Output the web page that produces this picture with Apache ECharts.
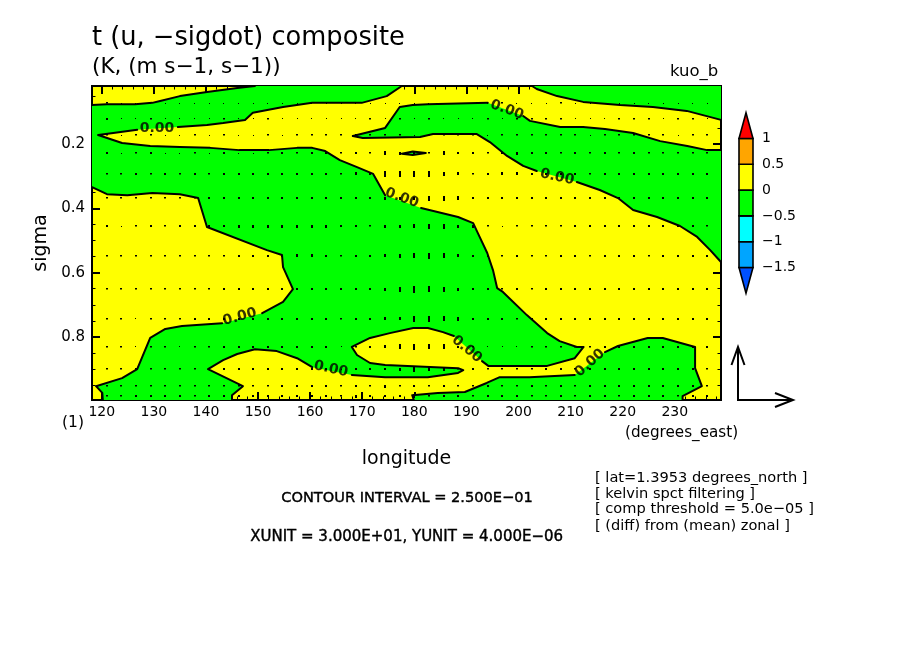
<!DOCTYPE html>
<html><head><meta charset="utf-8">
<style>html,body{margin:0;padding:0;background:#fff}#c{width:904px;height:654px}</style>
<script src="https://cdn.jsdelivr.net/npm/echarts@6/dist/echarts.min.js"></script>
</head><body><div id="c"></div>
<script>
const LON_MIN = 118.125, LON_MAX = 238.875, SIG_MIN = 0.0196, SIG_MAX = 0.996;
const lonTicks = [120,130,140,150,160,170,180,190,200,210,220,230];
const lonMinor = [120,122,124,126,128,130,132,134,136,138,140,142,144,146,148,150,152,154,156,158,160,162,164,166,168,170,172,174,176,178,180,182,184,186,188,190,192,194,196,198,200,202,204,206,208,210,212,214,216,218,220,222,224,226,228,230,232,234,236,238];
const sigTicks = [0.2,0.4,0.6,0.8];
const sigMinor = [0.05,0.1,0.15,0.2,0.25,0.3,0.35,0.4,0.45,0.5,0.55,0.6,0.65,0.7,0.75,0.8,0.85,0.9,0.95];

// negative (green) region bounded by the 0 contour; each piece is an unbroken stretch of line
const bigGreenPieces = [
 [[118.125,.079],[121,.076],[126.4,.076],[129.7,.072],[131.2,.066],[135,.051],[140.2,.038],[146,.026],[149.4,.0196]],
 [[177.6,.0196],[174.7,.051],[169.9,.072],[165.7,.072],[160.4,.072],[154.8,.085],[149,.103],[147.5,.125],[143.3,.135],[140.2,.141],[134.6,.147]],
 [[126.8,.156],[122.2,.166],[119.3,.172],[123.9,.197],[129.3,.206],[135,.209],[140.8,.212],[146.4,.219],[152.1,.219],[157.5,.212],[160.4,.212],[162.9,.222],[165.7,.25],[169,.272],[172.1,.293],[174.4,.359]],
 [[181.3,.399],[188.4,.427],[191.3,.446],[192.2,.477],[194,.539],[195.1,.592],[195.9,.648],[197,.66],[201.6,.732],[205.5,.788],[207.9,.813],[211.2,.831],[212.5,.831],[210.8,.866],[205.5,.89],[194.2,.89],[193,.875]],
 [[187.6,.797],[185.5,.785],[182.6,.772],[179.8,.772],[175.3,.788],[171.5,.803],[168,.831],[169,.856],[171.5,.881],[174.4,.887],[188.4,.897],[189.4,.903],[188.4,.912],[182.6,.925],[174.4,.925],[168,.918]],
 [[160.4,.894],[157.5,.866],[153.6,.844],[149.4,.838],[146,.853],[143.3,.872],[140.4,.9],[147.1,.953],[145,.981],[145,.996]],
 [[120.2,.996],[120.1,.974],[118.9,.953],[123.9,.928],[126.8,.9],[129.3,.803],[132.2,.775],[135.4,.766],[143.1,.757]],
 [[150.8,.726],[154.8,.691],[156.7,.651],[154.8,.583],[154.6,.545],[151.7,.53],[140.2,.458],[138.5,.368],[135,.356],[129.7,.352],[124.9,.359],[121,.356],[118.125,.334]]
];
const midGreenPieces = [
 [[168.2,.175],[174.4,.15],[177.2,.085],[179.7,.079],[182.6,.076],[194.1,.072]],
 [[200.9,.113],[202.2,.128],[208,.147],[212.4,.147],[216.6,.153],[222,.166],[227.2,.191],[232.4,.206],[236.2,.219],[238.875,.219]],
 [[238.875,.567],[236.8,.53],[234.3,.489],[231,.455],[226.6,.427],[222,.405],[219.1,.368],[215.6,.343],[211.2,.318]],
 [[203.5,.284],[200.9,.268],[197.8,.237],[194.5,.194],[192,.169],[183.6,.169],[181.1,.178],[170.1,.181],[168.2,.175]]
];
const topRightPieces = [
 [[202.6,.0196],[203.5,.029],[207.4,.051],[212.4,.069],[219.5,.079],[225.8,.085],[232.3,.097],[238.875,.125]]
];
const topRightCorner = [[238.875,.0196]];
const lowRightPieces = [
 [[179.9,.996],[179.6,.981],[184.5,.974],[189.7,.971],[193.9,.943],[196.4,.925],[202.1,.925],[210.8,.918]],
 [[216.6,.847],[219.1,.828],[224.8,.803],[227.7,.803],[233.9,.831],[233.9,.897],[235.2,.953],[231.5,.984],[231.5,.996]]
];
const lensPieces = [[[177.6,.23],[179.7,.223],[182.2,.228],[179.7,.234],[177.6,.23]]];

const contourLabels = [
 [130.6,.150,0],[197.8,.094,-20],[177.6,.368,-20],[207.4,.303,-12],
 [146.5,.738,15],[164.0,.900,-12],[190.1,.838,-40],[213.7,.881,42]
];

const vecLons = [120.94,123.75,126.56,129.38,132.19,135,137.81,140.63,143.44,146.25,149.06,151.88,154.69,157.5,160.31,163.13,165.94,168.75,171.56,174.38,177.19,180,182.81,185.63,188.44,191.25,194.06,196.88,199.69,202.5,205.31,208.13,210.94,213.75,216.56,219.38,222.19,225,227.81,230.63,233.44,236.25];
const vecSigmas = [.0725,.122,.172,.228,.293,.368,.455,.548,.651,.744,.831,.9,.953,.984];
// vertical component, in pixels-equivalent of the arrow key (YUNIT 4e-6 = 53)
const wRows = [
 [1,.5,.5,.5,.5,.5,.5,.5,.5,.5,.5,.5,.5,.5,.5,.5, .5,.5,.5,.5,.5,.5,.5,.5,.5,.5,.5,1,.5, .5,.5,1,.5,.5,.5,.5,.5,.5,.5,.5,.5,.5],
 [2,.5,.5,1,.5,.5,.5,.5,1,.5,.5,1,.5,.5,.5,.5, .5,.5,1,.5,1,.5,1,.5,.5,.5,1,.5,1, 1,1,1,.5,.5,.5,1,1,1,.5,1,1,.5],
 [1.5,.5,1,1.5,.5,.5,1,.5,1.5,.5,.5,1,.5,1,1.5,1.5, 1,1,1.5,1,1.5,.5,1,1,1,1,.5,1,1, 1,1.5,1,1,.5,1,1.5,1,1.5,1,.5,1,1],
 [2,.5,1,2,.5,.5,1,.5,2,.5,.5,1,2,1,2,2, 1,2,1,4,3,3,1,4,2,2,1,2,3, 2,2,1,2,1,2,1,2,1,1,1,1,1],
 [1,1,2,1,2,1,2,1,2,2,2,2,2,2,2,2, 1,3,2,6,6,6,6,4,3,1,2,3,3, 2,2,2,2,1.5,2,2,2,2,2,2,2,2],
 [1,1,1,1,1,1,1,2,2,2,2,2,2,2,2,2, 2,2,2,3,3,3,5,5,4,2,2,2,2, 2,2,2,2,2,2,2,2,2,2,2,2,2],
 [2,.5,1,2,1,2,2,2,2,3,3,3,3,3,3,3, 2,2,1,3,3,4,5,5,3,3,1,.5,1, 1,1,1,2,2,2,2,2,2,2,2,2,1],
 [1,1,1,1,1,1,1,1,1,2,2,2,2,3,3,2, 1,2,2,3,4,5,6,5,3,2,2,1,2, 1,1,2,2,1,2,2,2,1,2,2,2,2],
 [1,1,1,1,1,1,1,1,2,2,2,2,2,2,2,2, 2,2,2,3,5,7,6,5,3,2,2,1,2, 1,2,2,2,2,2,2,2,2,2,2,2,2],
 [1,1,.5,1,1,1,2,2,2,2,2,2,2,2,2,2, 1,2,2,3,3,6,6,5,4,2,2,2,1, 2,2,2,2,2,2,2,2,2,2,2,2,2],
 [1,1,.5,1,1,.5,1,1,2,2,2,2,2,2,2,2, .5,1,2,3,5,6,5,5,2,1,.5,.5,.5, 1,1,1,1,1,2,2,2,2,2,2,2,2],
 [1,1,1,1,1,1,1,1,2,2,2,2,2,2,2,2, .5,2,2,2,3,5,4,3,1,2,1,1,1, 1,2,2,1,2,2,2,2,2,2,2,2,1],
 [1,1,1,1,1,1,1,1,1,1,1,1,2,2,2,2, 1,2,1,3,1,2,1,2,1,1,2,1,1, 2,1,2,1,2,2,2,2,2,2,2,2,1],
 [1,1,2,2,2,2,1,2,2,2,2,2,2,2,2,2, 1,3,2,2,2,4,1,2,2,1,2,2,2, 1,1,2,1,2,2,1,2,2,2,1,2,2]
];

const barLevels = [-2,-1.5,-1,-0.5,0,0.5,1,1.5];
const barColors = ['#0050ff','#00a5ff','#00ffff','#00ff00','#ffff00','#ffa500','#ff0000'];
const barLabels = [-1.5,-1,-0.5,0,0.5,1];
const xUnit = 30, yUnit = 4;

const GREEN = '#00ff00', YELLOW = '#ffff00', FONT = '"DejaVu Sans"';
const polygons = [
  bigGreenPieces.flat(), midGreenPieces.flat(),
  topRightPieces.flat().concat(topRightCorner), lowRightPieces.flat(), lensPieces.flat()
];
const allPieces = [...bigGreenPieces,...midGreenPieces,...topRightPieces,...lowRightPieces,...lensPieces];
const vecData = [];
wRows.forEach((row,r)=>row.forEach((w,i)=>vecData.push([vecLons[i],vecSigmas[r],w])));

function axisX(pos,vals,len,labels){return {type:'value',gridIndex:0,position:pos,min:LON_MIN,max:LON_MAX,
  axisLine:{show:true,onZero:false,lineStyle:{color:'#000',width:2}},splitLine:{show:false},
  axisTick:{show:true,inside:true,length:len,customValues:vals,lineStyle:{color:'#000',width:len>4?2:1}},
  axisLabel:labels?{show:true,customValues:lonTicks,color:'#000',fontFamily:FONT,fontSize:14,margin:5}:{show:false}};}
function axisY(pos,vals,len,labels){return {type:'value',gridIndex:0,position:pos,inverse:true,min:SIG_MIN,max:SIG_MAX,
  axisLine:{show:true,onZero:false,lineStyle:{color:'#000',width:2}},splitLine:{show:false},
  axisTick:{show:true,inside:true,length:len,customValues:vals,lineStyle:{color:'#000',width:len>4?2:1}},
  axisLabel:labels?{show:true,customValues:sigTicks,formatter:v=>v.toFixed(1),color:'#000',fontFamily:FONT,fontSize:15,margin:7}:{show:false}};}

const xB = axisX('bottom',lonTicks,8,true);
xB.name='longitude'; xB.nameLocation='middle'; xB.nameGap=50; xB.nameTextStyle={color:'#000',fontFamily:FONT,fontSize:19};
const yL = axisY('left',sigTicks,8,true);
yL.name='sigma'; yL.nameLocation='middle'; yL.nameGap=37; yL.nameTextStyle={color:'#000',fontFamily:FONT,fontSize:19};

const hidden = (g,min,max)=>({type:'value',gridIndex:g,min,max,show:false});

function txt(text,x,y,size,heavy){return {type:'text',left:x,top:y,silent:true,z:50,
  style:Object.assign({text,fill:'#000',font:size+'px '+FONT},heavy?{stroke:'#000',lineWidth:.4}:{})};}

const series = [
 {type:'custom',xAxisIndex:0,yAxisIndex:0,z:2,clip:true,silent:true,data:polygons.map((p,i)=>[i]),
  encode:{x:[],y:[]},
  renderItem:(params,api)=>({type:'polygon',shape:{points:polygons[api.value(0)].map(p=>api.coord(p))},
    style:{fill:GREEN,stroke:null}})},
 ...allPieces.map(piece=>({type:'line',xAxisIndex:0,yAxisIndex:0,z:3,silent:true,showSymbol:false,symbol:'none',
   animation:false,lineStyle:{color:'#000',width:2,cap:'round',join:'round'},data:piece})),
 {type:'custom',xAxisIndex:0,yAxisIndex:0,z:4,silent:true,data:vecData,encode:{x:0,y:1},
  renderItem:(params,api)=>{const c=api.coord([api.value(0),api.value(1)]);const w=api.value(2);
    const wid=w<1?1:2,h=Math.max(w,w<1?1:1.5);
    return {type:'rect',shape:{x:Math.round(c[0]-wid/2),y:Math.round(c[1]-h/2),width:wid,height:h},style:{fill:'#000'}};}},
 {type:'scatter',xAxisIndex:0,yAxisIndex:0,z:5,symbolSize:0,silent:true,
  data:contourLabels.map(l=>({value:[l[0],l[1]],label:{rotate:l[2]}})),
  label:{show:true,position:'inside',formatter:'0.00',color:'#000',fontFamily:FONT,fontSize:14,fontWeight:'bold',align:'center',verticalAlign:'middle'}},
 {type:'custom',xAxisIndex:4,yAxisIndex:4,z:2,silent:true,data:barColors.map((c,i)=>[i]),encode:{x:[],y:[]},
  renderItem:(params,api)=>{const i=api.value(0);const lo=barLevels[i],hi=barLevels[i+1];
    let pts;
    if(i===0) pts=[api.coord([0,hi]),api.coord([1,hi]),api.coord([.5,lo])];
    else if(i===barColors.length-1) pts=[api.coord([0,lo]),api.coord([1,lo]),api.coord([.5,hi])];
    else pts=[api.coord([0,lo]),api.coord([1,lo]),api.coord([1,hi]),api.coord([0,hi])];
    return {type:'polygon',shape:{points:pts},style:{fill:barColors[i],stroke:'#000',lineWidth:1.6}};}},
 {type:'custom',xAxisIndex:5,yAxisIndex:5,z:2,silent:true,clip:false,data:[[xUnit,yUnit]],encode:{x:0,y:1},
  renderItem:(params,api)=>{const o=api.coord([0,0]),tx=api.coord([api.value(0),0]),ty=api.coord([0,api.value(1)]);
    const st={stroke:'#000',lineWidth:2,fill:null};
    return {type:'group',children:[
      {type:'polyline',shape:{points:[ty,o,tx]},style:st},
      {type:'polyline',shape:{points:[[ty[0]-6.5,ty[1]+18],ty,[ty[0]+6.5,ty[1]+18]]},style:st},
      {type:'polyline',shape:{points:[[tx[0]-18,tx[1]-7],tx,[tx[0]-18,tx[1]+7]]},style:st}
    ]};}}
];

const chart = echarts.init(document.getElementById('c'),null,{renderer:'canvas'});
chart.setOption({
 animation:false,backgroundColor:'#fff',
 title:[
  {text:'t (u, \u2212sigdot) composite',left:92,top:25,padding:0,textStyle:{color:'#000',fontFamily:FONT,fontWeight:'normal',fontSize:25.7}},
  {text:'(K, (m s\u22121, s\u22121))',left:92,top:56,padding:0,textStyle:{color:'#000',fontFamily:FONT,fontWeight:'normal',fontSize:21.5}}
 ],
 grid:[
  {left:92,top:86,width:629,height:314,show:true,backgroundColor:YELLOW,borderWidth:0},
  {left:739,top:112.7,width:14,height:180.6,show:false},
  {left:738,top:347,width:55,height:53,show:false}
 ],
 xAxis:[xB,axisX('bottom',lonMinor,3.5,false),axisX('top',lonTicks,8,false),axisX('top',lonMinor,3.5,false),
  hidden(1,0,1),hidden(2,0,xUnit)],
 yAxis:[yL,axisY('left',sigMinor,3.5,false),axisY('right',sigTicks,8,false),axisY('right',sigMinor,3.5,false),
  {type:'value',gridIndex:1,min:-2,max:1.5,position:'right',axisLine:{show:false},axisTick:{show:false},splitLine:{show:false},
   axisLabel:{show:true,customValues:barLabels,margin:9,color:'#000',fontFamily:FONT,fontSize:14,
     formatter:v=>String(v).replace('-','\u2212')}},
  hidden(2,0,yUnit)],
 series,
 graphic:[
  txt('kuo_b',670,63,16.5),
  txt('(1)',62,415,15.5),
  txt('(degrees_east)',625,426,15.2),
  txt('CONTOUR INTERVAL = 2.500E\u221201',281,491,14.6,true),
  txt('XUNIT = 3.000E+01, YUNIT = 4.000E\u221206',250,529,15,true),
  txt('[ lat=1.3953 degrees_north ]',595,471,14.6),
  txt('[ kelvin spct filtering ]',595,487,14.6),
  txt('[ comp threshold = 5.0e\u221205 ]',595,502,14.6),
  txt('[ (diff) from (mean) zonal ]',595,519,14.6)
 ]
});
</script></body></html>
